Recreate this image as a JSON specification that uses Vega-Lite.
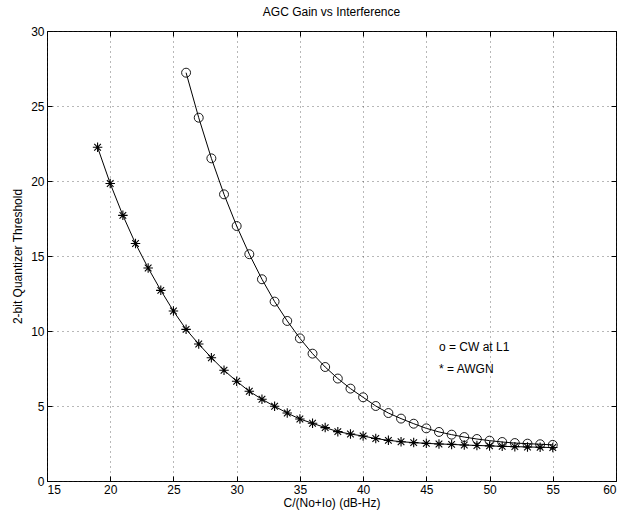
{
  "$schema": "https://vega.github.io/schema/vega-lite/v6.json",
  "width": 569,
  "height": 450,
  "autosize": {"type": "none"},
  "padding": {"left": 47, "top": 31, "right": 10, "bottom": 40},
  "background": "white",
  "config": {
    "font": "Liberation Sans",
    "view": {"stroke": "black", "strokeWidth": 1},
    "axis": {
      "labelFont": "Liberation Sans",
      "titleFont": "Liberation Sans",
      "labelFontSize": 12,
      "titleFontSize": 12,
      "titleFontWeight": "normal",
      "labelColor": "black",
      "titleColor": "black",
      "domainColor": "black",
      "tickColor": "black",
      "gridColor": "#333",
      "gridDash": [1, 4],
      "gridOpacity": 0.7
    }
  },
  "title": {"text": "AGC Gain vs Interference", "fontSize": 12, "fontWeight": "normal", "font": "Liberation Sans", "offset": 6},
  "datasets": {
    "series": [
      {"snr": 19, "threshold": 22.25, "signal": "AWGN"},
      {"snr": 20, "threshold": 19.83, "signal": "AWGN"},
      {"snr": 21, "threshold": 17.71, "signal": "AWGN"},
      {"snr": 22, "threshold": 15.83, "signal": "AWGN"},
      {"snr": 23, "threshold": 14.2, "signal": "AWGN"},
      {"snr": 24, "threshold": 12.71, "signal": "AWGN"},
      {"snr": 25, "threshold": 11.33, "signal": "AWGN"},
      {"snr": 26, "threshold": 10.11, "signal": "AWGN"},
      {"snr": 27, "threshold": 9.13, "signal": "AWGN"},
      {"snr": 28, "threshold": 8.22, "signal": "AWGN"},
      {"snr": 29, "threshold": 7.38, "signal": "AWGN"},
      {"snr": 30, "threshold": 6.65, "signal": "AWGN"},
      {"snr": 31, "threshold": 5.98, "signal": "AWGN"},
      {"snr": 32, "threshold": 5.45, "signal": "AWGN"},
      {"snr": 33, "threshold": 4.98, "signal": "AWGN"},
      {"snr": 34, "threshold": 4.53, "signal": "AWGN"},
      {"snr": 35, "threshold": 4.13, "signal": "AWGN"},
      {"snr": 36, "threshold": 3.85, "signal": "AWGN"},
      {"snr": 37, "threshold": 3.56, "signal": "AWGN"},
      {"snr": 38, "threshold": 3.29, "signal": "AWGN"},
      {"snr": 39, "threshold": 3.13, "signal": "AWGN"},
      {"snr": 40, "threshold": 3.0, "signal": "AWGN"},
      {"snr": 41, "threshold": 2.83, "signal": "AWGN"},
      {"snr": 42, "threshold": 2.71, "signal": "AWGN"},
      {"snr": 43, "threshold": 2.62, "signal": "AWGN"},
      {"snr": 44, "threshold": 2.56, "signal": "AWGN"},
      {"snr": 45, "threshold": 2.51, "signal": "AWGN"},
      {"snr": 46, "threshold": 2.47, "signal": "AWGN"},
      {"snr": 47, "threshold": 2.44, "signal": "AWGN"},
      {"snr": 48, "threshold": 2.4, "signal": "AWGN"},
      {"snr": 49, "threshold": 2.37, "signal": "AWGN"},
      {"snr": 50, "threshold": 2.34, "signal": "AWGN"},
      {"snr": 51, "threshold": 2.31, "signal": "AWGN"},
      {"snr": 52, "threshold": 2.29, "signal": "AWGN"},
      {"snr": 53, "threshold": 2.27, "signal": "AWGN"},
      {"snr": 54, "threshold": 2.25, "signal": "AWGN"},
      {"snr": 55, "threshold": 2.23, "signal": "AWGN"},
      {"snr": 26, "threshold": 27.22, "signal": "CW"},
      {"snr": 27, "threshold": 24.22, "signal": "CW"},
      {"snr": 28, "threshold": 21.51, "signal": "CW"},
      {"snr": 29, "threshold": 19.11, "signal": "CW"},
      {"snr": 30, "threshold": 17.0, "signal": "CW"},
      {"snr": 31, "threshold": 15.12, "signal": "CW"},
      {"snr": 32, "threshold": 13.45, "signal": "CW"},
      {"snr": 33, "threshold": 11.96, "signal": "CW"},
      {"snr": 34, "threshold": 10.67, "signal": "CW"},
      {"snr": 35, "threshold": 9.51, "signal": "CW"},
      {"snr": 36, "threshold": 8.49, "signal": "CW"},
      {"snr": 37, "threshold": 7.6, "signal": "CW"},
      {"snr": 38, "threshold": 6.83, "signal": "CW"},
      {"snr": 39, "threshold": 6.16, "signal": "CW"},
      {"snr": 40, "threshold": 5.58, "signal": "CW"},
      {"snr": 41, "threshold": 5.0, "signal": "CW"},
      {"snr": 42, "threshold": 4.53, "signal": "CW"},
      {"snr": 43, "threshold": 4.16, "signal": "CW"},
      {"snr": 44, "threshold": 3.82, "signal": "CW"},
      {"snr": 45, "threshold": 3.51, "signal": "CW"},
      {"snr": 46, "threshold": 3.27, "signal": "CW"},
      {"snr": 47, "threshold": 3.09, "signal": "CW"},
      {"snr": 48, "threshold": 2.93, "signal": "CW"},
      {"snr": 49, "threshold": 2.8, "signal": "CW"},
      {"snr": 50, "threshold": 2.69, "signal": "CW"},
      {"snr": 51, "threshold": 2.6, "signal": "CW"},
      {"snr": 52, "threshold": 2.53, "signal": "CW"},
      {"snr": 53, "threshold": 2.49, "signal": "CW"},
      {"snr": 54, "threshold": 2.45, "signal": "CW"},
      {"snr": 55, "threshold": 2.41, "signal": "CW"}
    ],
    "notes": [{"line1": "o = CW at L1", "line2": "* = AWGN"}]
  },
  "layer": [
    {
      "data": {"name": "series"},
      "mark": {"type": "line", "color": "black", "strokeWidth": 1},
      "encoding": {
        "x": {"field": "snr", "type": "quantitative", "scale": {"domain": [15, 60], "nice": false},
              "axis": {"orient": "bottom", "values": [15,20,25,30,35,40,45,50,55,60], "title": "C/(No+Io) (dB-Hz)", "tickSize": -5, "labelPadding": 8, "titlePadding": 2, "domain": false}},
        "y": {"field": "threshold", "type": "quantitative", "scale": {"domain": [0, 30], "nice": false},
              "axis": {"orient": "left", "values": [0,5,10,15,20,25,30], "title": "2-bit Quantizer Threshold", "tickSize": -5, "labelPadding": 8, "titlePadding": 6, "domain": false}},
        "detail": {"field": "signal"}
      }
    },
    {
      "data": {"name": "series"},
      "transform": [{"filter": "datum.signal === 'CW'"}],
      "mark": {"type": "point", "shape": "circle", "filled": false, "color": "black", "size": 80, "strokeWidth": 0.9, "opacity": 1},
      "encoding": {
        "x": {"field": "snr", "type": "quantitative", "axis": {"orient": "top", "values": [15,20,25,30,35,40,45,50,55,60], "labels": false, "title": null, "tickSize": -5, "grid": false, "domain": false}},
        "y": {"field": "threshold", "type": "quantitative", "axis": {"orient": "right", "values": [0,5,10,15,20,25,30], "labels": false, "title": null, "tickSize": -5, "grid": false, "domain": false}}
      }
    },
    {
      "data": {"name": "series"},
      "transform": [{"filter": "datum.signal === 'AWGN'"}],
      "mark": {"type": "point", "shape": "M-1,0L1,0M0,-1L0,1M-0.7,-0.7L0.7,0.7M-0.7,0.7L0.7,-0.7", "filled": false, "color": "black", "size": 90, "strokeWidth": 1.1, "opacity": 1},
      "encoding": {
        "x": {"field": "snr", "type": "quantitative", "axis": null},
        "y": {"field": "threshold", "type": "quantitative", "axis": null}
      }
    },
    {
      "data": {"name": "notes"},
      "mark": {"type": "text", "align": "left", "baseline": "middle", "fontSize": 12, "font": "Liberation Sans", "color": "black"},
      "encoding": {
        "x": {"datum": 46, "type": "quantitative", "axis": null},
        "y": {"datum": 8.93, "type": "quantitative", "axis": null},
        "text": {"field": "line1"}
      }
    },
    {
      "data": {"name": "notes"},
      "mark": {"type": "text", "align": "left", "baseline": "middle", "fontSize": 12, "font": "Liberation Sans", "color": "black"},
      "encoding": {
        "x": {"datum": 46, "type": "quantitative", "axis": null},
        "y": {"datum": 7.49, "type": "quantitative", "axis": null},
        "text": {"field": "line2"}
      }
    }
  ]
}
